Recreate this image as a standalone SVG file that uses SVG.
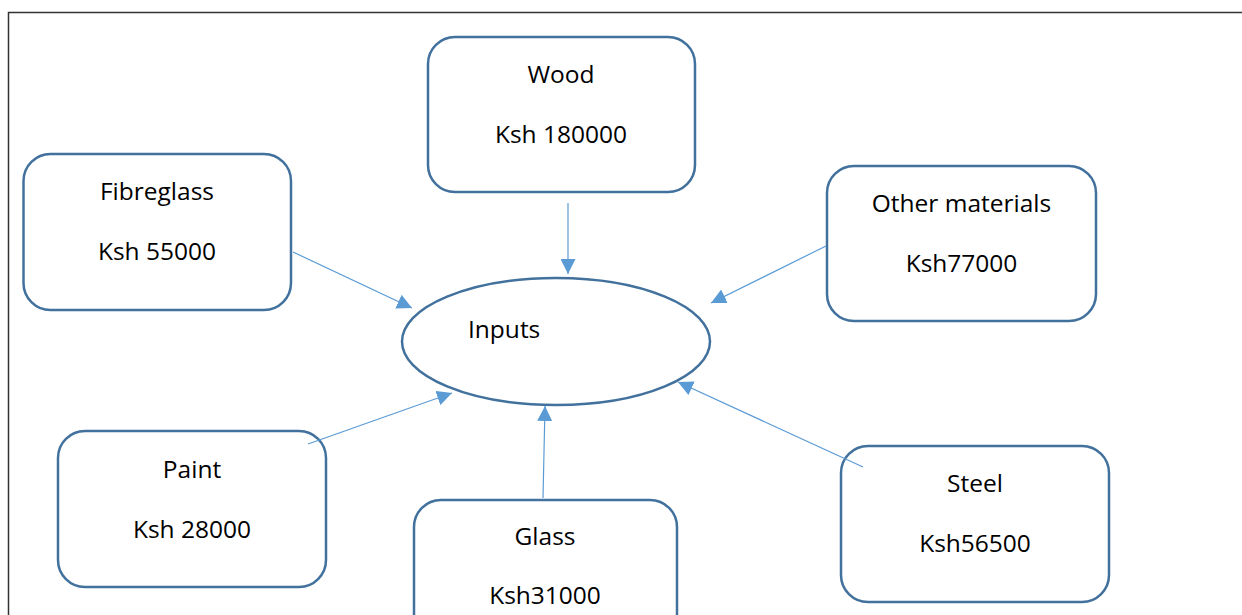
<svg xmlns="http://www.w3.org/2000/svg" width="1242" height="615" viewBox="0 0 1242 615">
<defs>
<style>
.box{fill:#fff;stroke:#41719C;stroke-width:2.5}
.t{font-family:"Open Sans","Liberation Sans",Arial,sans-serif;font-size:24.5px;fill:#000;text-anchor:middle}
.c{stroke:#5B9BD5;stroke-width:1.2;fill:none;marker-end:url(#ah)}
</style>
<marker id="ah" viewBox="0 0 10 10" refX="10" refY="5" markerWidth="15" markerHeight="15" markerUnits="userSpaceOnUse" orient="auto">
<path d="M0,0 L10,5 L0,10 Z" fill="#5B9BD5"/>
</marker>
</defs>
<rect width="1242" height="615" fill="#fff"/>
<path d="M8.5,615 V12.5 H1242" fill="none" stroke="#333" stroke-width="1.5"/>
<g id="wood">
<rect class="box" x="428" y="37" width="267" height="155" rx="27"/>
<text class="t" x="561" y="83">Wood</text>
<text class="t" x="561" y="143">Ksh 180000</text>
</g>
<g id="fibreglass">
<rect class="box" x="23.5" y="154" width="267.5" height="156" rx="27"/>
<text class="t" x="157" y="200">Fibreglass</text>
<text class="t" x="157" y="260">Ksh 55000</text>
</g>
<g id="other">
<rect class="box" x="827" y="166" width="269" height="155" rx="27"/>
<text class="t" x="961.5" y="212">Other materials</text>
<text class="t" x="961.5" y="272">Ksh77000</text>
</g>
<g id="inputs">
<ellipse class="box" cx="556" cy="341.5" rx="154" ry="63.5"/>
<text x="468" y="338" style="font-family:'Open Sans','Liberation Sans',Arial,sans-serif;font-size:24.5px;fill:#000">Inputs</text>
</g>
<g id="paint">
<rect class="box" x="58" y="431" width="268" height="156" rx="27"/>
<text class="t" x="192" y="478">Paint</text>
<text class="t" x="192" y="538">Ksh 28000</text>
</g>
<g id="glass">
<rect class="box" x="414" y="500" width="263" height="140" rx="27"/>
<text class="t" x="545" y="545">Glass</text>
<text class="t" x="545" y="604">Ksh31000</text>
</g>
<g id="steel">
<rect class="box" x="841" y="446" width="268" height="156" rx="27"/>
<text class="t" x="975" y="492">Steel</text>
<text class="t" x="975" y="552">Ksh56500</text>
</g>
<g id="connectors">
<line class="c" x1="568" y1="203" x2="568" y2="274"/>
<line class="c" x1="826" y1="246" x2="711" y2="303"/>
<line class="c" x1="293" y1="252" x2="412" y2="308"/>
<line class="c" x1="308" y1="444" x2="452" y2="393"/>
<line class="c" x1="543" y1="498" x2="545" y2="406"/>
<line class="c" x1="863" y1="467" x2="678" y2="382"/>
</g>
</svg>
